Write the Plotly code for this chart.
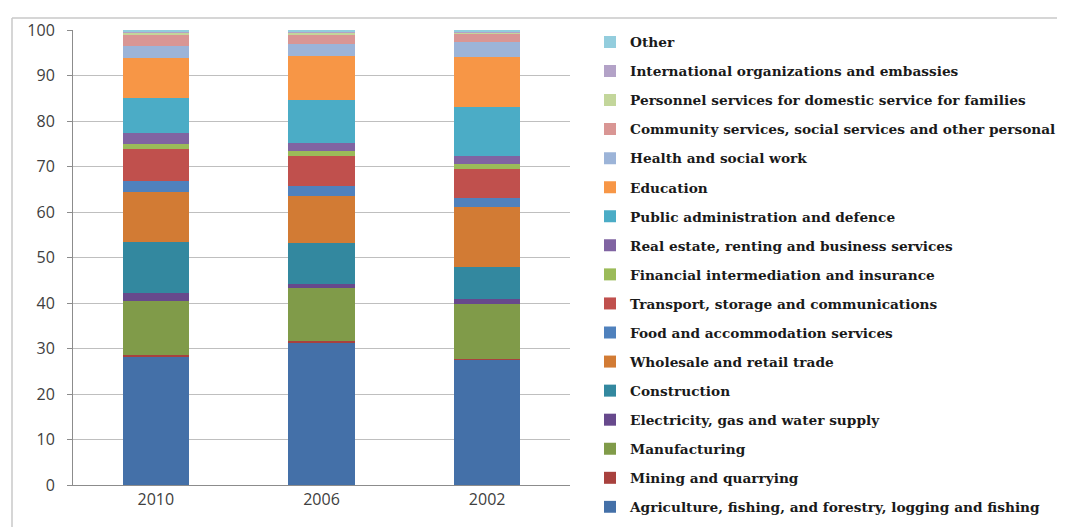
import plotly.graph_objects as go

years = ["2010", "2006", "2002"]

sectors = [
    "Agriculture, fishing, and forestry, logging and fishing",
    "Mining and quarrying",
    "Manufacturing",
    "Electricity, gas and water supply",
    "Construction",
    "Wholesale and retail trade",
    "Food and accommodation services",
    "Transport, storage and communications",
    "Financial intermediation and insurance",
    "Real estate, renting and business services",
    "Public administration and defence",
    "Education",
    "Health and social work",
    "Community services, social services and other personal",
    "Personnel services for domestic service for families",
    "International organizations and embassies",
    "Other",
]

agriculture = [28.3, 31.3, 27.6]
mining = [0.3, 0.4, 0.2]
manufacturing = [11.9, 11.7, 11.9]
electricity = [1.6, 0.7, 1.1]
construction = [11.4, 9.0, 7.2]
wholesale = [11.0, 10.5, 13.0]
food = [2.3, 2.1, 2.0]
transport = [7.0, 6.5, 6.4]
financial = [1.2, 1.1, 1.1]
real_estate = [2.3, 1.9, 1.8]
public_admin = [7.7, 9.4, 10.8]
education = [8.8, 9.7, 11.0]
health = [2.7, 2.6, 3.3]
community = [2.6, 2.2, 1.9]
personnel = [0.3, 0.3, 0.2]
international = [0.2, 0.2, 0.2]
other = [0.4, 0.4, 0.3]

series = [agriculture, mining, manufacturing, electricity, construction,
          wholesale, food, transport, financial, real_estate, public_admin,
          education, health, community, personnel, international, other]

colors = ["#4470A8", "#A8413E", "#809B49", "#67498C", "#33889F", "#D27B34",
          "#4F81BD", "#C0504D", "#9BBB59", "#8064A2", "#4BACC6", "#F79646",
          "#9CB4D8", "#D99694", "#C3D69B", "#B3A2C7", "#93CDDD"]

n = len(sectors)
fig = go.Figure()
for i, (name, vals, col) in enumerate(zip(sectors, series, colors)):
    fig.add_trace(go.Bar(
        x=years, y=vals, name=name, legendgroup=f"g{i}",
        legendrank=1000 - i,
        marker=dict(color=col, line=dict(width=0)),
    ))

# page body has an 8px margin; figure coordinates = screen - 8
W, H = 1057, 519
L, R, T, B = 65, 562, 22, 477
pw, ph = R - L, B - T

def px_x(x):
    return (x - L) / pw

def px_y(y):
    return (B - y) / ph

fig.update_layout(
    width=W, height=H,
    margin=dict(l=L, r=W - R, t=T, b=H - B, autoexpand=False),
    barmode="stack",
    bargap=0.6,
    paper_bgcolor="white",
    plot_bgcolor="white",
    showlegend=True,
    legend=dict(
        x=582 / W, xanchor="left", xref="container",
        y=1 - 18.5 / H, yanchor="top", yref="container",
        traceorder="grouped",
        tracegroupgap=8.25,
        maxheight=1,
        font=dict(family="DejaVu Serif", size=13.7, color="#1a1a1a", weight="bold"),
        itemwidth=30,
        bgcolor="rgba(0,0,0,0)",
    ),
    xaxis=dict(
        showline=True, linecolor="#8c8c8c", linewidth=1,
        ticks="outside", tickcolor="#8c8c8c", ticklen=0,
        tickfont=dict(family="Open Sans", size=16, color="#404040"),
        showgrid=False,
    ),
    yaxis=dict(
        range=[0, 100], dtick=10, tick0=0,
        showline=True, linecolor="#8c8c8c", linewidth=1,
        ticks="outside", tickcolor="#8c8c8c", ticklen=5,
        ticklabelstandoff=9,
        showgrid=True, gridcolor="#bfbfbf", gridwidth=1,
        tickfont=dict(family="Open Sans", size=16, color="#404040"),
        zeroline=False,
    ),
    shapes=[
        dict(type="line", xref="paper", yref="paper",
             x0=px_x(4), x1=px_x(1060), y0=px_y(10), y1=px_y(10),
             line=dict(color="#c8c8c8", width=1.5)),
        dict(type="line", xref="paper", yref="paper",
             x0=px_x(4), x1=px_x(4), y0=px_y(10), y1=px_y(525),
             line=dict(color="#c8c8c8", width=1.5)),
    ],
)

fig.write_html("out.html")
